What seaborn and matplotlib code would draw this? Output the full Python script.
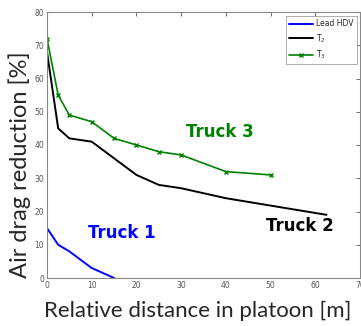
import matplotlib
matplotlib.use('Agg')
import matplotlib.pyplot as plt
import seaborn as sns
import pandas as pd

# 数据
lead_x = [0, 2.5, 5, 10, 15]
lead_y = [15, 10, 8, 3, 0]
t2_x = [0, 2.5, 5, 10, 20, 25, 30, 40, 62.5]
t2_y = [68, 45, 42, 41, 31, 28, 27, 24, 19]
t3_x = [0, 2.5, 5, 10, 15, 20, 25, 30, 40, 50]
t3_y = [72, 55, 49, 47, 42, 40, 38, 37, 32, 31]
x_ticks = [0, 10, 20, 30, 40, 50, 60, 70]
y_ticks = [0, 10, 20, 30, 40, 50, 60, 70, 80]

sns.set_style('white')
plt.rcParams['font.family'] = ['DejaVu Sans']

df_lead = pd.DataFrame({'x': lead_x, 'y': lead_y})
df_t2 = pd.DataFrame({'x': t2_x, 'y': t2_y})
df_t3 = pd.DataFrame({'x': t3_x, 'y': t3_y})

fig = plt.figure(figsize=(3.61, 3.26), dpi=100)
ax = fig.add_axes([47/361, 48/326, 313/361, 266/326])

sns.lineplot(data=df_lead, x='x', y='y', ax=ax, color='#0000ff', linewidth=1.4,
             label='Lead HDV', sort=False)
sns.lineplot(data=df_t2, x='x', y='y', ax=ax, color='black', linewidth=1.4,
             label='T$_2$', sort=False)
sns.lineplot(data=df_t3, x='x', y='y', ax=ax, color='#008000', linewidth=1.2,
             marker='x', markersize=3.5, markeredgewidth=1.0, markeredgecolor='#008000',
             label='T$_3$', sort=False)

ax.set_xlim(0, 70)
ax.set_ylim(0, 80)
ax.set_xticks(x_ticks)
ax.set_yticks(y_ticks)
ax.tick_params(direction='in', length=3, width=0.6, colors='#555555', labelsize=5.5,
               top=True, right=True, pad=2)
for s in ax.spines.values():
    s.set_color('#888888')
    s.set_linewidth(0.8)

ax.set_xlabel('Relative distance in platoon [m]', fontsize=16, family='Lato')
ax.set_ylabel('Air drag reduction [%]', fontsize=17, family='Lato')
ax.xaxis.set_label_coords(0.48, -0.085)
ax.yaxis.set_label_coords(-0.05, 0.425)

# 标注
ax.text(16.8, 13.5, 'Truck 1', color='#0000ff', fontsize=12, fontweight='bold',
        ha='center', va='center')
ax.text(38.7, 44, 'Truck 3', color='#008000', fontsize=12, fontweight='bold',
        ha='center', va='center')
ax.text(56.6, 15.6, 'Truck 2', color='black', fontsize=12, fontweight='bold',
        ha='center', va='center')

leg = ax.legend(loc='upper right', fontsize=5.5, frameon=True, fancybox=False,
                borderpad=0.4, handlelength=3.2, handletextpad=0.4, labelspacing=0.5,
                borderaxespad=0.2, bbox_to_anchor=(0.995, 0.99))
leg.get_frame().set_edgecolor('#888888')
leg.get_frame().set_linewidth(0.6)

fig.savefig('out.png', dpi=100, facecolor='white')
